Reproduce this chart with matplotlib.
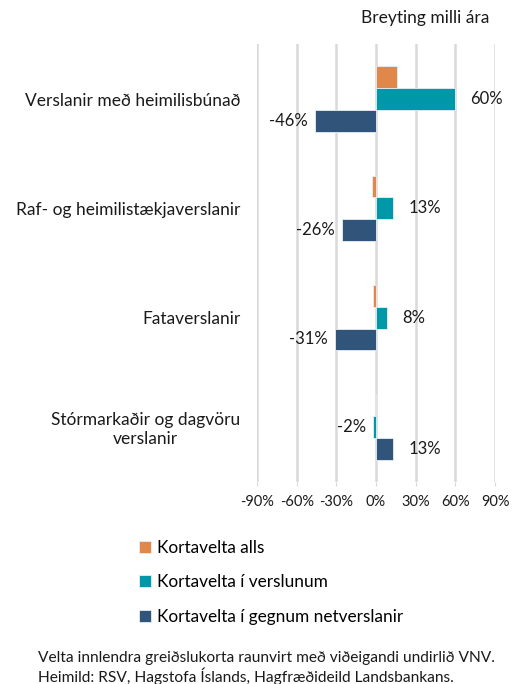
import matplotlib.pyplot as plt
import numpy as np

plt.rcParams['font.family'] = ['Lato', 'DejaVu Sans']

# categories top to bottom
categories = ["Verslanir með heimilisbúnað",
              "Raf- og heimilistækjaverslanir",
              "Fataverslanir",
              "Stórmarkaðir og dagvöru\nverslanir"]
kortavelta_alls = [16, -3, -2.5, -1]
kortavelta_verslunum = [60, 13, 8, -2]
kortavelta_net = [-46, -26, -31, 13]
series_names = ["Kortavelta alls", "Kortavelta í verslunum",
                "Kortavelta í gegnum netverslanir"]
colors = ["#E2874A", "#0098A8", "#31557A"]
ticks = [-90, -60, -30, 0, 30, 60, 90]

fig = plt.figure(figsize=(5.21, 6.84), dpi=100)
ax = fig.add_axes([0.4933, 0.296, 0.4568, 0.639])

y = np.arange(len(categories))
h = 0.2
series = [kortavelta_alls, kortavelta_verslunum, kortavelta_net]
bars = []
for i, (vals, name, c) in enumerate(zip(series, series_names, colors)):
    b = ax.barh(y + (i - 1) * h, vals, height=h, color=c, label=name,
                edgecolor="#e8eef2", linewidth=0.6, zorder=3)
    bars.append(b)

# data labels only for the last two series
for vals, b in zip(series[1:], bars[1:]):
    for v, rect in zip(vals, b):
        yc = rect.get_y() + rect.get_height() / 2
        if v >= 0:
            ax.annotate(f"{v:.0f}%", (v, yc), xytext=(11, 0), textcoords="offset points",
                        ha="left", va="center", fontsize=12, color="#1a1a1a")
        else:
            ax.annotate(f"{v:.0f}%", (v, yc), xytext=(-5, 0), textcoords="offset points",
                        ha="right", va="center", fontsize=12, color="#1a1a1a")

ax.set_xlim(-90, 90)
ax.set_ylim(len(categories) - 0.5, -0.5)
ax.set_xticks(ticks)
ax.set_xticklabels([f"{t}%" for t in ticks], fontsize=10.5, color="#1a1a1a")
ax.tick_params(axis="x", length=3, color="#d9d9d9", pad=7)
ax.set_yticks(y)
ax.set_yticklabels(categories, fontsize=12.5, color="#1a1a1a", ha="right",
                   multialignment="center")
ax.tick_params(axis="y", length=0, pad=12)
ax.xaxis.grid(True, color="#d9d9d9", linewidth=1.8, zorder=0)
for s in ax.spines.values():
    s.set_visible(False)

fig.text(0.816, 0.973, "Breyting milli ára", ha="center", va="center", fontsize=12.5, color="#1a1a1a")

fig.legend(handles=bars, labels=series_names, loc="upper left",
           bbox_to_anchor=(0.254, 0.22), frameon=False, fontsize=12.4,
           handlelength=0.7, handleheight=0.7, handletextpad=0.35, labelspacing=1.05,
           borderaxespad=0)

fig.text(0.073, 0.023, "Velta innlendra greiðslukorta raunvirt með viðeigandi undirlið VNV.\n"
         "Heimild: RSV, Hagstofa Íslands, Hagfræðideild Landsbankans.",
         ha="left", va="center", fontsize=11.2, color="#1a1a1a", linespacing=1.15)

fig.savefig("out.png", dpi=100)
